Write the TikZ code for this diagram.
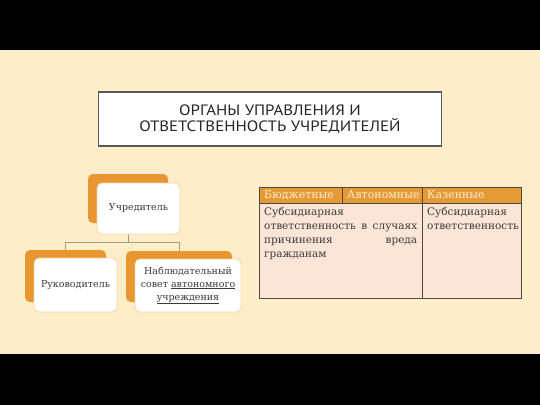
\documentclass[tikz,border=0pt]{standalone}
\usepackage{fontspec}
\setmainfont{DejaVu Serif}
\newfontfamily\titlefont[FakeStretch=1.12]{PT Sans}
\definecolor{cream}{HTML}{FDEDC9}
\definecolor{treeorange}{HTML}{E8962F}
\definecolor{frontline}{HTML}{F2D6A6}
\definecolor{headfill}{HTML}{E49B35}
\definecolor{headtext}{HTML}{FDEBCD}
\definecolor{bodyfill}{HTML}{FBE5D6}
\definecolor{tlinecol}{HTML}{54483C}
\definecolor{txt}{HTML}{3A3A3A}
\definecolor{conncol}{HTML}{A89B84}
\begin{document}
\begin{tikzpicture}[x=1pt,y=-1pt,
  titlebox/.style={draw=black!65, line width=1.3pt, fill=white, minimum width=343pt, minimum height=54pt, align=center, font=\titlefont\fontsize{15}{15.8}\selectfont, text=black!85},
  backbox/.style={fill=treeorange, rounded corners=5pt},
  frontbox/.style={draw=frontline, line width=0.8pt, fill=white, rounded corners=5pt, align=center, font=\fontsize{9.5}{13}\selectfont, text=txt, inner sep=2pt},
  conn/.style={draw=conncol, line width=0.7pt},
  tline/.style={draw=tlinecol, line width=0.9pt},
  headtxt/.style={anchor=west, inner sep=0pt, text=headtext, font=\fontsize{11}{13}\selectfont},
  bodytxt/.style={anchor=north west, inner sep=0pt, text=txt, font=\fontsize{10.5}{13.9}\selectfont}
]
\useasboundingbox (0,0) rectangle (540,405);
\fill[black] (0,0) rectangle (540,405);
\fill[cream] (0,50) rectangle (540,354);

\node[titlebox] (title) at (270,119) {ОРГАНЫ УПРАВЛЕНИЯ И\\ОТВЕТСТВЕННОСТЬ УЧРЕДИТЕЛЕЙ};

% tree
\node[backbox, minimum width=80pt, minimum height=49pt] (ub) at (128,198.5) {};
\node[backbox, minimum width=81pt, minimum height=52pt] (lb) at (65.5,276) {};
\node[backbox, minimum width=106pt, minimum height=51pt] (rb) at (179,276.5) {};
\coordinate (j) at (128,242);
\draw[conn] (ub.south) -- (j);
\draw[conn] (j) -| (lb.north);
\draw[conn] (j) -| (rb.north);
\node[frontbox, minimum width=83pt, minimum height=51pt] (u) at (138.5,208.5) {Учредитель};
\node[frontbox, minimum width=83pt, minimum height=54pt] (l) at (75.5,285) {Руководитель};
\node[frontbox, minimum width=106pt, minimum height=53pt] (r) at (188,285.5) {Наблюдательный\\совет \underline{автономного}\\\underline{учреждения}};

% table
\fill[headfill] (259,187) rectangle (521,203);
\fill[bodyfill] (259,203) rectangle (521,298);
\draw[tline] (259,187) rectangle (521,298);
\draw[tline] (259,203) -- (521,203);
\draw[tline] (342,187) -- (342,203);
\draw[tline] (422,187) -- (422,298);
\node[headtxt] (h1) at (264,195) {Бюджетные};
\node[headtxt] (h2) at (347,195) {Автономные};
\node[headtxt] (h3) at (427,195) {Казенные};
\node[bodytxt, text width=153pt, align=justify] (t1) at (264,207) {Субсидиарная\newline ответственность в случаях\linebreak причинения вреда\linebreak гражданам};
\node[bodytxt, text width=92pt, align=left] (t2) at (427,207) {Субсидиарная\\ответственность};
\end{tikzpicture}
\end{document}
